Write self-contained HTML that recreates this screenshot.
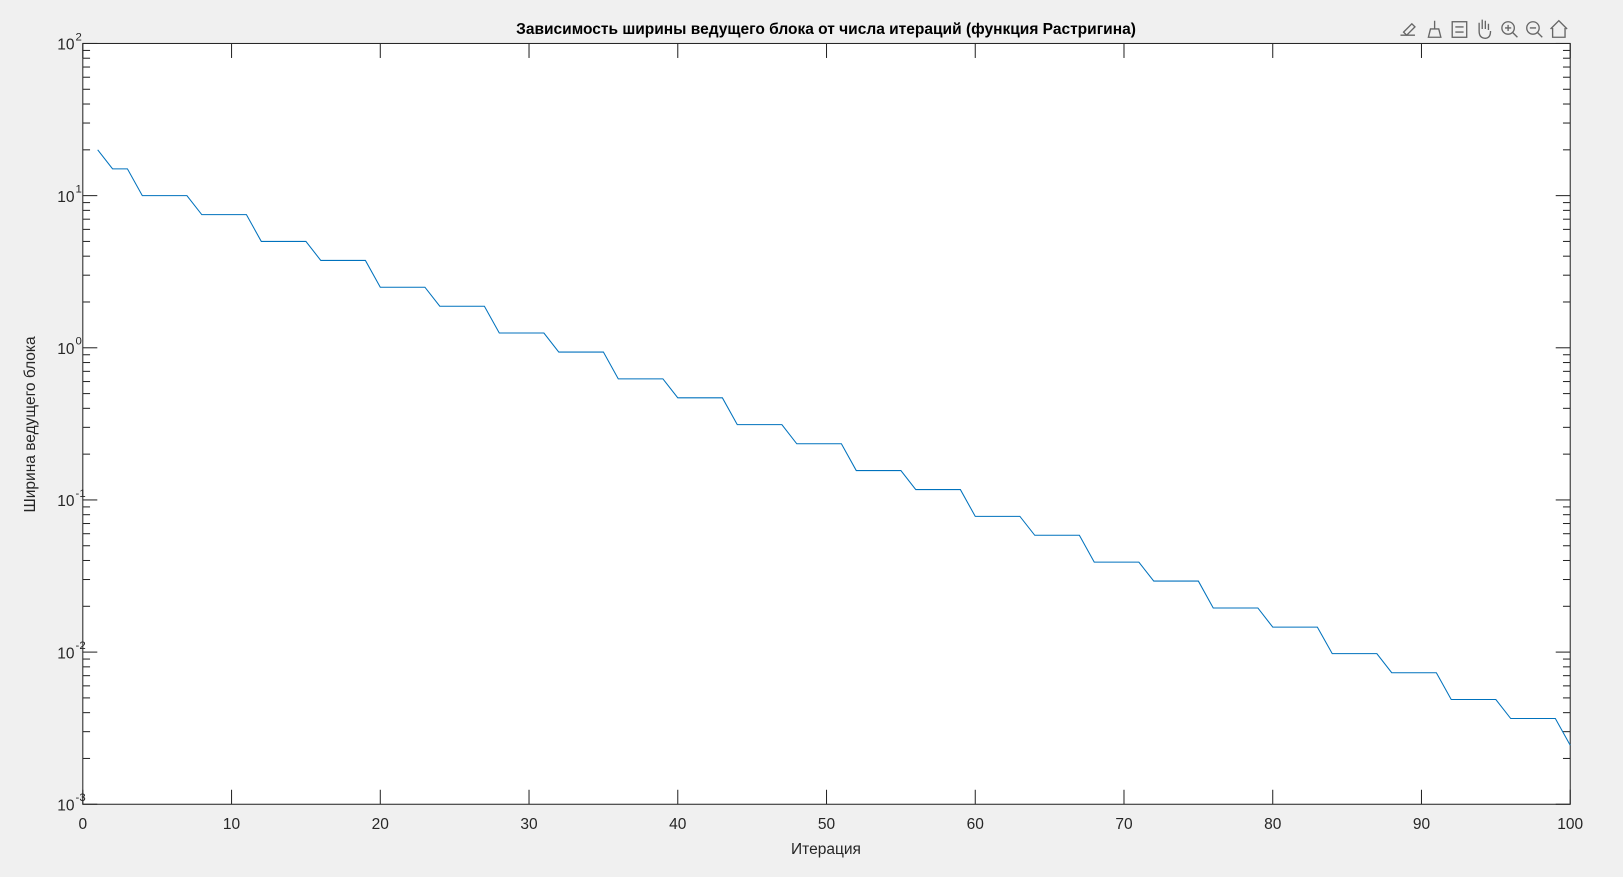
<!DOCTYPE html>
<html><head><meta charset="utf-8"><style>
body{margin:0;background:#f0f0f0;width:1623px;height:872px;overflow:hidden;font-family:"Liberation Sans",sans-serif}
</style></head><body>
<svg width="1623" height="872" id="svg" xmlns="http://www.w3.org/2000/svg" font-family="Liberation Sans, sans-serif">
<rect x="0" y="0" width="1623" height="872" fill="#f0f0f0"/>
<g transform="scale(1.03508)">
<rect x="80" y="42" width="1437" height="735" fill="#fff" stroke="#262626" stroke-width="1"/>
<text x="798" y="33" text-anchor="middle" font-size="15" font-weight="bold" fill="#000">Зависимость ширины ведущего блока от числа итераций (функция Растригина)</text>
<text x="798" y="825" text-anchor="middle" font-size="15" fill="#262626">Итерация</text>
<text transform="translate(34,410) rotate(-90)" text-anchor="middle" font-size="15" fill="#262626">Ширина ведущего блока</text>
<g id="ticks"></g>
<path id="line" fill="none" stroke="#0072bd" stroke-width="1"/>
<g fill="none" stroke="#666" stroke-width="1.3">
<g><path d="M1353 34h14M1356 31l8-8 3 3-8 8z"/></g>
<g><path d="M1380 36h12l-2-8h-8zM1386 28v-8"/></g>
<g><rect x="1403" y="21" width="14" height="15"/><path d="M1406 26h8M1406 31h8"/></g>
<g><path d="M1429 30v-8M1432 28v-9M1435 28v-8M1438 29v-6M1429 30q0 7 6 7q5 0 5-7"/></g>
<g><circle cx="1457" cy="27" r="6"/><path d="M1461 31l5 5M1454 27h6M1457 24v6"/></g>
<g><circle cx="1481" cy="27" r="6"/><path d="M1485 31l5 5M1478 27h6"/></g>
<g><path d="M1498 28l8-8 8 8M1500 27v9h12v-9"/></g>
</g>
</g>
</svg>
<script>
const xTicks=[0,10,20,30,40,50,60,70,80,90,100];
const yExps=[2,1,0,-1,-2,-3];
const iterations=[1,2,3,4,5,6,7,8,9,10,11,12,13,14,15,16,17,18,19,20,21,22,23,24,25,26,27,28,29,30,31,32,33,34,35,36,37,38,39,40,41,42,43,44,45,46,47,48,49,50,51,52,53,54,55,56,57,58,59,60,61,62,63,64,65,66,67,68,69,70,71,72,73,74,75,76,77,78,79,80,81,82,83,84,85,86,87,88,89,90,91,92,93,94,95,96,97,98,99,100];
const widths=[20,15,15,10,10,10,10,7.5,7.5,7.5,7.5,5,5,5,5,3.75,3.75,3.75,3.75,2.5,2.5,2.5,2.5,1.875,1.875,1.875,1.875,1.25,1.25,1.25,1.25,0.9375,0.9375,0.9375,0.9375,0.625,0.625,0.625,0.625,0.469,0.469,0.469,0.469,0.3125,0.3125,0.3125,0.3125,0.234,0.234,0.234,0.234,0.156,0.156,0.156,0.156,0.117,0.117,0.117,0.117,0.078,0.078,0.078,0.078,0.0586,0.0586,0.0586,0.0586,0.039,0.039,0.039,0.039,0.0293,0.0293,0.0293,0.0293,0.0195,0.0195,0.0195,0.0195,0.0146,0.0146,0.0146,0.0146,0.00977,0.00977,0.00977,0.00977,0.00732,0.00732,0.00732,0.00732,0.00488,0.00488,0.00488,0.00488,0.00366,0.00366,0.00366,0.00366,0.00244];
const X0=80,X1=1517,Y0=42,Y1=777;
const xs=v=>X0+(v-0)/(100-0)*(X1-X0);
const ys=v=>Y0+(2-Math.log10(v))/5*(Y1-Y0);
const NS='http://www.w3.org/2000/svg';
const g=document.getElementById('ticks');
function ln(x1,y1,x2,y2){const l=document.createElementNS(NS,'line');l.setAttribute('x1',x1);l.setAttribute('y1',y1);l.setAttribute('x2',x2);l.setAttribute('y2',y2);l.setAttribute('stroke','#262626');


g.appendChild(l);}
function tx(x,y,s,a,fs){const t=document.createElementNS(NS,'text');t.setAttribute('x',x);t.setAttribute('y',y);t.setAttribute('text-anchor',a);t.setAttribute('font-size',fs);t.setAttribute('fill','#262626');t.textContent=s;


g.appendChild(t);return t;}
xTicks.forEach(v=>{const x=xs(v);ln(x,Y1,x,Y1-14);ln(x,Y0,x,Y0+14);tx(x,801,String(v),'middle',15);});
yExps.forEach((e,i)=>{const y=ys(Math.pow(10,e));ln(X0,y,X0+14,y);ln(X1,y,X1-14,y);
tx(72,y+6,'10','end',15);tx(73,y-3,String(e),'start',11);
if(i<yExps.length-1){for(let k=2;k<10;k++){const yy=ys(k*Math.pow(10,e-1));ln(X0,yy,X0+7,yy);ln(X1,yy,X1-7,yy);}}});
let d='';
iterations.forEach((it,i)=>{d+=(i?'L':'M')+xs(it).toFixed(2)+' '+ys(widths[i]).toFixed(2);});
document.getElementById('line').setAttribute('d',d);
</script>
</body></html>
